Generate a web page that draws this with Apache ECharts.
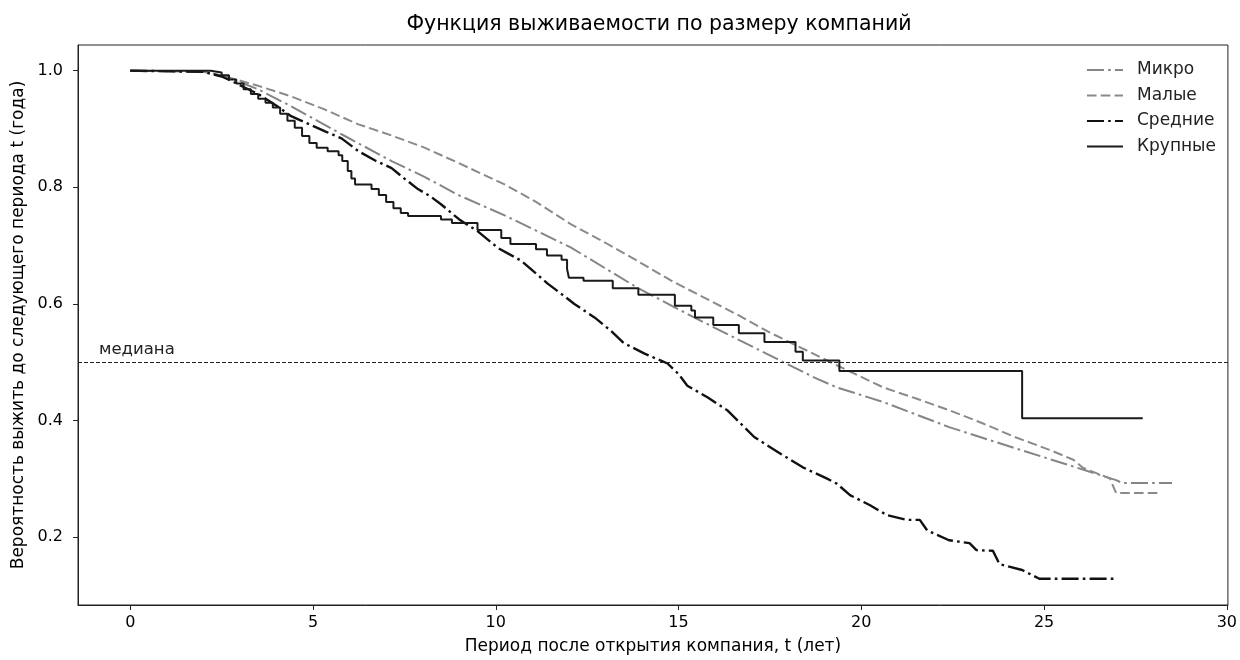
<!DOCTYPE html>
<html>
<head>
<meta charset="utf-8">
<script src="https://cdn.jsdelivr.net/npm/echarts@6/dist/echarts.min.js"></script>
<style>
  html, body { margin: 0; padding: 0; background: #fff; }
  #chart { width: 1240px; height: 660px; }
</style>
</head>
<body>
<div id="chart"></div>
<script>
// series names
const groups = ['Микро', 'Малые', 'Средние', 'Крупные']

// [t, S(t)]
const micro = [[0, 1], [2.0, 0.998], [2.6, 0.99], [3.5, 0.968], [4.4, 0.939], [5.78, 0.891], [7.15, 0.845],
  [8.05, 0.818], [8.97, 0.787], [10.24, 0.752], [12.05, 0.697], [13.87, 0.628], [15.33, 0.58], [16.6, 0.54],
  [17.88, 0.5], [18.78, 0.472], [19.33, 0.457], [20.6, 0.432], [22.4, 0.389], [24.2, 0.353], [25.87, 0.32],
  [26.97, 0.298], [27.15, 0.293], [28.5, 0.293]]

const small = [[0, 1], [2.0, 0.998], [2.6, 0.99], [3.5, 0.974], [4.4, 0.956], [5.3, 0.934], [6.24, 0.908],
  [7.1, 0.89], [8.05, 0.868], [8.97, 0.842], [10.24, 0.805], [11.1, 0.775], [12.05, 0.737], [13.0, 0.705],
  [13.87, 0.674], [14.8, 0.64], [15.7, 0.611], [16.6, 0.582], [17.5, 0.551], [18.78, 0.512], [19.33, 0.495],
  [20.0, 0.475], [20.6, 0.457], [21.5, 0.438], [22.4, 0.418], [23.3, 0.396], [24.2, 0.372], [25.15, 0.35],
  [25.8, 0.333], [26.07, 0.319], [26.8, 0.301], [26.97, 0.276], [28.15, 0.276]]

const medium = [[0, 1], [2.0, 0.998], [2.5, 0.99], [2.78, 0.982], [3.1, 0.972], [3.5, 0.96], [4.0, 0.94],
  [4.4, 0.922], [4.9, 0.908], [5.33, 0.896], [5.78, 0.884], [6.24, 0.862], [6.7, 0.846], [7.15, 0.833],
  [7.5, 0.815], [7.87, 0.797], [8.2, 0.785], [8.5, 0.771], [9.0, 0.745], [9.5, 0.725], [10.06, 0.696],
  [10.7, 0.674], [11.05, 0.655], [11.42, 0.635], [11.8, 0.617], [12.15, 0.6], [12.7, 0.577], [13.15, 0.554],
  [13.5, 0.533], [14.07, 0.515], [14.7, 0.498], [15.0, 0.48], [15.24, 0.46], [15.79, 0.44], [16.33, 0.418],
  [16.8, 0.389], [17.07, 0.372], [17.8, 0.343], [18.4, 0.32], [19.05, 0.301], [19.33, 0.292], [19.7, 0.272],
  [20.24, 0.255], [20.7, 0.238], [21.24, 0.23], [21.6, 0.23], [21.8, 0.212], [22.4, 0.195], [22.96, 0.19],
  [23.15, 0.178], [23.6, 0.177], [23.78, 0.154], [24.4, 0.144], [24.87, 0.129], [26.9, 0.129]]

// step function (value after each drop)
const large = [[0, 1], [2.2, 0.997], [2.5, 0.992], [2.7, 0.985], [2.9, 0.978], [3.1, 0.968], [3.3, 0.96],
  [3.5, 0.952], [3.7, 0.945], [3.9, 0.937], [4.1, 0.926], [4.3, 0.914], [4.5, 0.902], [4.7, 0.888],
  [4.9, 0.876], [5.1, 0.868], [5.4, 0.862], [5.7, 0.855], [5.8, 0.845], [5.95, 0.828], [6.05, 0.815],
  [6.15, 0.805], [6.6, 0.797], [6.8, 0.787], [7.0, 0.775], [7.2, 0.764], [7.4, 0.756], [7.6, 0.751],
  [8.5, 0.745], [8.8, 0.739], [9.5, 0.727], [10.15, 0.713], [10.4, 0.703], [11.1, 0.694], [11.4, 0.683],
  [11.8, 0.676], [11.95, 0.66], [12.0, 0.645], [12.4, 0.64], [13.2, 0.627], [13.9, 0.616], [14.9, 0.597],
  [15.35, 0.589], [15.45, 0.577], [15.95, 0.564], [16.65, 0.55], [17.35, 0.535], [18.2, 0.518],
  [18.4, 0.503], [19.4, 0.485], [24.4, 0.404], [27.7, 0.404]]

const median = 0.5
const xTicks = [0, 5, 10, 15, 20, 25, 30]
const yTicks = [0.2, 0.4, 0.6, 0.8, 1.0]

const FONT = 'DejaVu Sans'
const dashDot = [17, 4.2, 2.6, 4.2]
const dashed = [9.6, 4.2]

let myChart = echarts.init(document.getElementById('chart'), null, { renderer: 'canvas' })
let option = {
  animation: false,
  backgroundColor: '#fff',
  textStyle: { fontFamily: FONT },
  title: {
    text: 'Функция выживаемости по размеру компаний',
    left: 654,
    top: 9,
    textAlign: 'center',
    textStyle: { fontFamily: FONT, fontSize: 20.5, fontWeight: 'normal', color: '#000' }
  },
  legend: {
    orient: 'vertical',
    right: 24,
    top: 60,
    padding: 0,
    itemWidth: 36,
    itemHeight: 14,
    itemGap: 5.5,
    data: groups,
    itemStyle: { opacity: 0 },
    textStyle: { fontFamily: FONT, fontSize: 17, lineHeight: 20, color: '#222', padding: [0, 0, 0, 9] }
  },
  grid: {
    left: 78,
    right: 10,
    top: 45,
    bottom: 54,
    show: true,
    borderColor: '#222',
    borderWidth: 1
  },
  xAxis: {
    type: 'value',
    min: -1.43,
    max: 30.03,
    name: 'Период после открытия компания, t (лет)',
    nameLocation: 'middle',
    nameGap: 33,
    nameTextStyle: { fontFamily: FONT, fontSize: 17, color: '#000' },
    axisLine: { show: true, onZero: false, lineStyle: { color: '#222', width: 1 } },
    axisTick: { show: true, length: 5, customValues: xTicks, lineStyle: { color: '#222' } },
    axisLabel: { customValues: xTicks, margin: 10, fontFamily: FONT, fontSize: 16, color: '#000' },
    splitLine: { show: false }
  },
  yAxis: {
    type: 'value',
    min: 0.084,
    max: 1.044,
    name: 'Вероятность выжить до следующего периода t (года)',
    nameLocation: 'middle',
    nameGap: 47,
    nameTextStyle: { fontFamily: FONT, fontSize: 17, color: '#000' },
    axisLine: { show: true, onZero: false, lineStyle: { color: '#222', width: 1 } },
    axisTick: { show: true, length: 5, customValues: yTicks, lineStyle: { color: '#222' } },
    axisLabel: {
      customValues: yTicks,
      margin: 15,
      fontFamily: FONT,
      fontSize: 16,
      color: '#000',
      formatter: v => v.toFixed(1)
    },
    splitLine: { show: false }
  },
  series: [
    {
      name: groups[0],
      type: 'line',
      data: micro,
      symbol: 'none',
      lineStyle: { color: '#858585', width: 2, type: dashDot },
      itemStyle: { color: '#858585' },
      z: 2
    },
    {
      name: groups[1],
      type: 'line',
      data: small,
      symbol: 'none',
      lineStyle: { color: '#8a8a8a', width: 2, type: dashed },
      itemStyle: { color: '#8a8a8a' },
      z: 2
    },
    {
      name: groups[2],
      type: 'line',
      data: medium,
      symbol: 'none',
      lineStyle: { color: '#111', width: 2.4, type: dashDot },
      itemStyle: { color: '#111' },
      z: 3
    },
    {
      name: groups[3],
      type: 'line',
      step: 'end',
      data: large,
      symbol: 'none',
      lineStyle: { color: '#1a1a1a', width: 2 },
      itemStyle: { color: '#1a1a1a' },
      z: 4,
      markLine: {
        silent: true,
        symbol: 'none',
        lineStyle: { color: '#222', width: 1, type: [4, 2] },
        label: {
          show: true,
          position: 'insideStartTop',
          distance: [21, 4],
          formatter: 'медиана',
          fontFamily: FONT,
          fontSize: 16.5,
          color: '#222'
        },
        data: [{ yAxis: median }]
      }
    }
  ]
}
myChart.setOption(option, true)
</script>
</body>
</html>
